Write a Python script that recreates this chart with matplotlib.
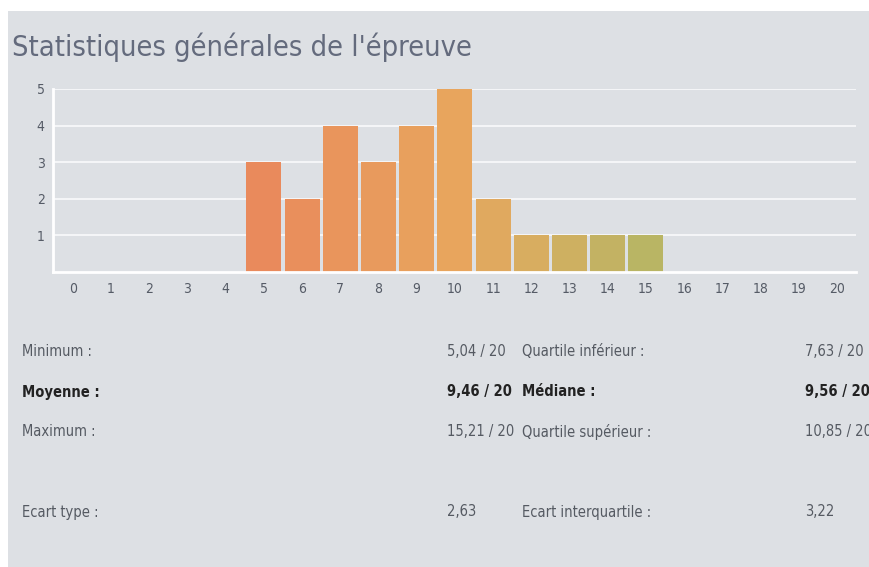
import matplotlib.pyplot as plt
from matplotlib.colors import LinearSegmentedColormap

# histogram of marks (out of 20)
notes = list(range(21))
effectifs = [0, 0, 0, 0, 0, 3, 2, 4, 3, 4, 5, 2, 1, 1, 1, 1, 0, 0, 0, 0, 0]
yticks = [1, 2, 3, 4, 5]

# statistics table
labels_gauche = ['Minimum :', 'Moyenne :', 'Maximum :', 'Ecart type :']
valeurs_gauche = ['5,04 / 20', '9,46 / 20', '15,21 / 20', '2,63']
labels_droite = ['Quartile inférieur :', 'Médiane :', 'Quartile supérieur :', 'Ecart interquartile :']
valeurs_droite = ['7,63 / 20', '9,56 / 20', '10,85 / 20', '3,22']
gras = [False, True, False, False]

plt.rcParams['font.family'] = ['DejaVu Sans']
plt.rcParams['font.stretch'] = 'condensed'

W, H = 869, 567
fig = plt.figure(figsize=(W / 100, H / 100), dpi=100)
fig.patch.set_facecolor('white')
bg = '#dde0e4'

# grey panel behind everything
panel = fig.add_axes([8 / W, 0, 1 - 8 / W, 1 - 11 / H])
panel.set_facecolor(bg)
panel.set_xticks([])
panel.set_yticks([])
for s in panel.spines.values():
    s.set_visible(False)

fig.text(12 / W, 1 - 47 / H, "Statistiques générales de l'épreuve", fontsize=20.8,
         color='#646b7d', va='center', ha='left', fontstretch='condensed')

ax = fig.add_axes([53 / W, 1 - 272 / H, (856 - 53) / W, (272 - 89) / H])
ax.set_facecolor(bg)

cmap = LinearSegmentedColormap.from_list('g', [(0, '#e98a5c'), (0.5, '#e8a55d'),
                                               (0.7, '#d8ad60'), (1, '#b9b564')])
couleurs = [cmap(min(max((n - 5) / 10, 0), 1)) for n in notes]
ax.bar(notes, effectifs, width=0.92, color=couleurs, zorder=3)

ax.set_xlim(-0.52, 20.5)
ax.set_ylim(0, 5)
ax.set_xticks(notes)
ax.set_yticks(yticks)
ax.grid(axis='y', color='#f4f5f7', linewidth=1.5, zorder=1)
for s in ['top', 'right']:
    ax.spines[s].set_visible(False)
for s in ['left', 'bottom']:
    ax.spines[s].set_color('white')
    ax.spines[s].set_linewidth(2)
    ax.spines[s].set_zorder(4)
ax.tick_params(length=0, labelsize=10, colors='#555b66')
ax.tick_params(axis='x', pad=7)
ax.tick_params(axis='y', pad=6)
for lab in ax.get_yticklabels():
    lab.set_verticalalignment('center_baseline')

ys = [352, 392, 432, 512]
for i in range(4):
    w = 'bold' if gras[i] else 'normal'
    c = '#222222' if gras[i] else '#555a62'
    y = 1 - ys[i] / H
    kw = dict(fontsize=10.5, color=c, weight=w, va='center', fontstretch='condensed')
    fig.text(22 / W, y, labels_gauche[i], **kw)
    fig.text(447 / W, y, valeurs_gauche[i], **kw)
    fig.text(522 / W, y, labels_droite[i], **kw)
    fig.text(805 / W, y, valeurs_droite[i], **kw)

fig.savefig('out.png', dpi=100, facecolor='white')
